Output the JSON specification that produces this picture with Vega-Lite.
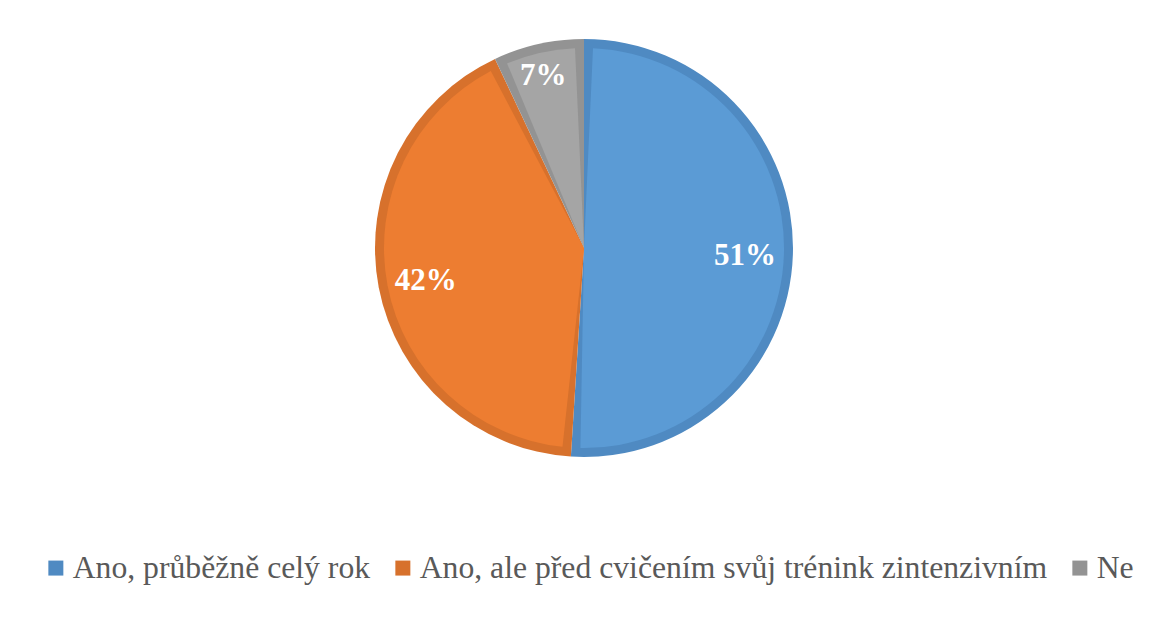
{
  "$schema": "https://vega.github.io/schema/vega-lite/v6.json",
  "width": 1128,
  "height": 480,
  "padding": {"left": 20, "top": 8, "right": 1, "bottom": 0},
  "autosize": {"type": "pad"},
  "background": "white",
  "config": {"view": {"stroke": null}, "font": "Liberation Serif"},
  "data": {
    "values": [
      {"kategorie": "Ano, průběžně celý rok", "podil": 0.51, "poradi": 1},
      {"kategorie": "Ano, ale před cvičením svůj trénink zintenzivním", "podil": 0.42, "poradi": 2},
      {"kategorie": "Ne", "podil": 0.07, "poradi": 3}
    ]
  },
  "encoding": {
    "theta": {"field": "podil", "type": "quantitative", "stack": true},
    "order": {"field": "poradi", "type": "quantitative"}
  },
  "layer": [
    {
      "mark": {"type": "arc", "outerRadius": 209},
      "encoding": {
        "color": {
          "field": "kategorie",
          "type": "nominal",
          "scale": {
            "domain": ["Ano, průběžně celý rok", "Ano, ale před cvičením svůj trénink zintenzivním", "Ne"],
            "range": ["#4F8AC2", "#D7712C", "#939393"]
          },
          "legend": {
            "orient": "none",
            "legendX": 20,
            "legendY": 544,
            "direction": "horizontal",
            "title": null,
            "symbolType": "square",
            "symbolSize": 225,
            "symbolStrokeWidth": 0,
            "labelFontSize": 31.7,
            "labelFont": "Liberation Serif",
            "labelColor": "#595959",
            "labelOffset": 1,
            "columnPadding": 16,
            "labelLimit": 0
          }
        }
      }
    },
    {
      "mark": {"type": "arc", "outerRadius": 200, "padAngle": 0.09},
      "encoding": {
        "fill": {
          "field": "kategorie",
          "type": "nominal",
          "scale": {
            "domain": ["Ano, průběžně celý rok", "Ano, ale před cvičením svůj trénink zintenzivním", "Ne"],
            "range": ["#5B9BD5", "#ED7D31", "#A5A5A5"]
          },
          "legend": null
        }
      }
    },
    {
      "mark": {"type": "text", "radius": 161, "dy": 3, "font": "Liberation Serif", "fontSize": 31, "fontWeight": "bold", "fill": "white", "align": "center", "baseline": "middle"},
      "encoding": {
        "text": {
          "condition": {"test": "datum.kategorie === 'Ne'", "value": ""},
          "field": "podil", "type": "quantitative", "format": ".0%"
        }
      }
    },
    {
      "mark": {"type": "text", "radius": 178, "dy": 2, "dx": -2, "font": "Liberation Serif", "fontSize": 31, "fontWeight": "bold", "fill": "white", "align": "center", "baseline": "middle"},
      "encoding": {
        "text": {
          "condition": {"test": "datum.kategorie !== 'Ne'", "value": ""},
          "field": "podil", "type": "quantitative", "format": ".0%"
        }
      }
    }
  ]
}
